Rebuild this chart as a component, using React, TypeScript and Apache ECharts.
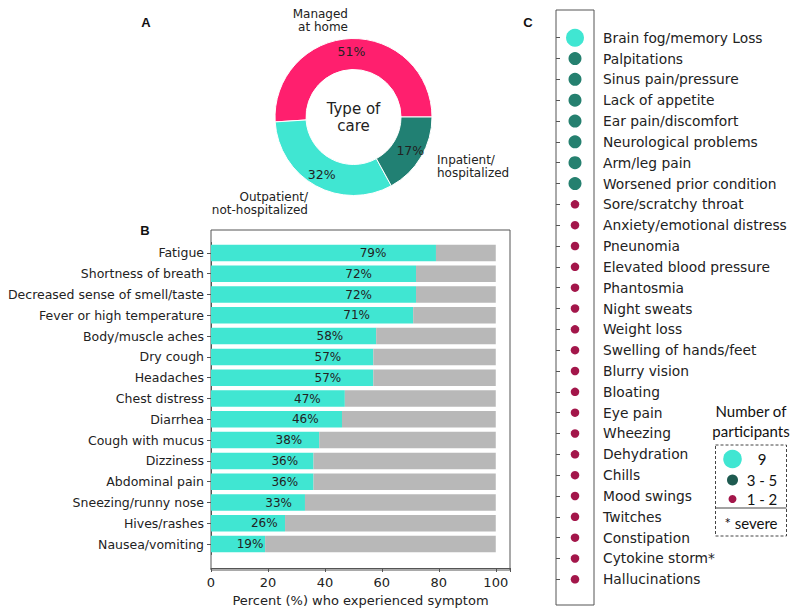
import React, { useEffect, useRef } from "react";
import * as echarts from "echarts";

// Panel A: type of care
const careNames = ["Managed\nat home", "Outpatient/\nnot-hospitalized", "Inpatient/\nhospitalized"];
const careValues = [51, 32, 17];
const careColors = ["#ff1f6e", "#40e6d2", "#218073"];

// Panel B: common symptoms
const symptoms = [
  "Fatigue",
  "Shortness of breath",
  "Decreased sense of smell/taste",
  "Fever or high temperature",
  "Body/muscle aches",
  "Dry cough",
  "Headaches",
  "Chest distress",
  "Diarrhea",
  "Cough with mucus",
  "Dizziness",
  "Abdominal pain",
  "Sneezing/runny nose",
  "Hives/rashes",
  "Nausea/vomiting",
];
const symptomPct = [79, 72, 72, 71, 58, 57, 57, 47, 46, 38, 36, 36, 33, 26, 19];
const xTicks = [0, 20, 40, 60, 80, 100];

// Panel C: rarer symptoms, group of number of participants
const rareSymptoms = [
  "Brain fog/memory Loss",
  "Palpitations",
  "Sinus pain/pressure",
  "Lack of appetite",
  "Ear pain/discomfort",
  "Neurological problems",
  "Arm/leg pain",
  "Worsened prior condition",
  "Sore/scratchy throat",
  "Anxiety/emotional distress",
  "Pneunomia",
  "Elevated blood pressure",
  "Phantosmia",
  "Night sweats",
  "Weight loss",
  "Swelling of hands/feet",
  "Blurry vision",
  "Bloating",
  "Eye pain",
  "Wheezing",
  "Dehydration",
  "Chills",
  "Mood swings",
  "Twitches",
  "Constipation",
  "Cytokine storm*",
  "Hallucinations",
];
// 0 = 9 participants, 1 = 3-5 participants, 2 = 1-2 participants
const rareGroup = [0, 1, 1, 1, 1, 1, 1, 1, 2, 2, 2, 2, 2, 2, 2, 2, 2, 2, 2, 2, 2, 2, 2, 2, 2, 2, 2];
const groupLabels = ["9", "3 - 5", "1 - 2"];
const groupColors = ["#40e6d2", "#25806f", "#a3164a"];
const legendColors = ["#40e6d2", "#1e5a50", "#a3164a"];
const groupSizes = [18, 13, 8.5];

const FONT = "DejaVu Sans";

export default function App() {
  const ref = useRef<HTMLDivElement>(null);
  useEffect(() => {
    if (!ref.current) return;
    const chart = echarts.init(ref.current, undefined, { renderer: "svg" });

    const pieData = careNames.map((n, i) => ({
      name: n,
      value: careValues[i],
      itemStyle: { color: careColors[i] },
    }));

    const nameLabelPos = [
      { x: 348, y: 20, align: "right" },
      { x: 308, y: 203, align: "right" },
      { x: 437, y: 166, align: "left" },
    ];

    const legendY = [459, 480, 499];
    const legendR = [9.3, 5.5, 4];

    const option: any = {
      animation: false,
      backgroundColor: "#ffffff",
      textStyle: { fontFamily: FONT },
      grid: [
        { left: 211, top: 242.5, width: 299, height: 314, containLabel: false },
        { left: 556, top: 27.3, width: 38, height: 562.4, containLabel: false },
      ],
      xAxis: [
        {
          gridIndex: 0,
          type: "value",
          min: 0,
          max: 105,
          interval: 20,
          offset: 13.5,
          splitLine: { show: false },
          axisLine: { show: true, lineStyle: { color: "#555", width: 1 } },
          axisTick: { show: true, length: 4, lineStyle: { color: "#555" } },
          axisLabel: {
            color: "#222",
            fontSize: 13,
            fontFamily: FONT,
            margin: 8,
            formatter: (v: number) => (xTicks.includes(v) ? String(v) : ""),
          },
          name: "Percent (%) who experienced symptom",
          nameLocation: "middle",
          nameGap: 26,
          nameTextStyle: { color: "#222", fontSize: 13, fontFamily: FONT },
        },
        {
          gridIndex: 1,
          type: "value",
          min: 0,
          max: 1,
          show: false,
        },
      ],
      yAxis: [
        {
          gridIndex: 0,
          type: "category",
          inverse: true,
          data: symptoms,
          axisLine: { show: true, lineStyle: { color: "#555", width: 1 } },
          axisTick: { show: true, alignWithLabel: true, length: 4, lineStyle: { color: "#555" } },
          axisLabel: { color: "#222", fontSize: 12.5, fontFamily: FONT, margin: 7 },
        },
        {
          gridIndex: 1,
          type: "category",
          inverse: true,
          position: "right",
          data: rareSymptoms,
          axisLine: { show: false },
          axisTick: { show: true, alignWithLabel: true, length: 4, lineStyle: { color: "#555" } },
          axisLabel: { color: "#222", fontSize: 13.8, fontFamily: FONT, margin: 9 },
        },
      ],
      series: [
        {
          type: "pie",
          center: [353.5, 117],
          radius: [47.5, 78.5],
          clockwise: false,
          startAngle: 0,
          silent: true,
          itemStyle: { borderColor: "#ffffff", borderWidth: 1 },
          label: {
            show: true,
            position: "inside",
            formatter: "{c}%",
            color: "#222",
            fontSize: 12.5,
            fontFamily: FONT,
          },
          labelLine: { show: false },
          data: pieData,
        },
        {
          type: "bar",
          xAxisIndex: 0,
          yAxisIndex: 0,
          stack: "s",
          barWidth: 16.5,
          itemStyle: { color: "#40e6d2" },
          label: {
            show: true,
            position: ["72%", "50%"],
            align: "center",
            verticalAlign: "middle",
            formatter: "{c}%",
            color: "#222",
            fontSize: 12,
            fontFamily: FONT,
          },
          data: symptomPct,
        },
        {
          type: "bar",
          xAxisIndex: 0,
          yAxisIndex: 0,
          stack: "s",
          barWidth: 16.5,
          itemStyle: { color: "#b8b8b8" },
          data: symptomPct.map((v) => 100 - v),
        },
        {
          type: "scatter",
          xAxisIndex: 1,
          yAxisIndex: 1,
          symbol: "circle",
          silent: true,
          data: rareSymptoms.map((_, i) => ({
            value: [0.5, i],
            symbolSize: groupSizes[rareGroup[i]],
            itemStyle: { color: groupColors[rareGroup[i]], opacity: 1 },
          })),
        },
      ],
      graphic: [
        // frames
        {
          type: "rect",
          shape: { x: 211, y: 230, width: 299, height: 340 },
          style: { fill: "none", stroke: "#555", lineWidth: 1 },
          silent: true,
        },
        {
          type: "rect",
          shape: { x: 556, y: 10, width: 38, height: 595 },
          style: { fill: "none", stroke: "#555", lineWidth: 1 },
          silent: true,
        },
        // panel letters
        { type: "text", x: 146, y: 22, style: { text: "A", font: "bold 13px 'Liberation Sans'", fill: "#111", align: "center", verticalAlign: "middle" } },
        { type: "text", x: 145, y: 230, style: { text: "B", font: "bold 13px 'Liberation Sans'", fill: "#111", align: "center", verticalAlign: "middle" } },
        { type: "text", x: 528, y: 22, style: { text: "C", font: "bold 13px 'Liberation Sans'", fill: "#111", align: "center", verticalAlign: "middle" } },
        // donut center text
        {
          type: "text",
          x: 353.5,
          y: 117,
          style: { text: "Type of\ncare", font: `15px '${FONT}'`, lineHeight: 17, fill: "#222", align: "center", verticalAlign: "middle" },
        },
        // donut outside names
        ...careNames.map((n, i) => ({
          type: "text",
          x: nameLabelPos[i].x,
          y: nameLabelPos[i].y,
          style: {
            text: n,
            font: `12px '${FONT}'`,
            lineHeight: 13,
            fill: "#222",
            align: nameLabelPos[i].align,
            verticalAlign: "middle",
          },
        })),
        // legend for panel C
        {
          type: "text",
          x: 751,
          y: 421,
          style: { text: "Number of\nparticipants", font: "15px Lato", lineHeight: 20, fill: "#111", align: "center", verticalAlign: "middle" },
        },
        {
          type: "rect",
          shape: { x: 715.5, y: 445, width: 71, height: 91 },
          style: { fill: "none", stroke: "#444", lineWidth: 1, lineDash: [3, 2] },
        },
        {
          type: "line",
          shape: { x1: 715.5, y1: 508, x2: 786.5, y2: 508 },
          style: { stroke: "#444", lineWidth: 1 },
        },
        ...groupLabels.flatMap((g, i) => [
          {
            type: "circle",
            shape: { cx: 732.5, cy: legendY[i], r: legendR[i] },
            style: { fill: legendColors[i] },
          },
          {
            type: "text",
            x: 762,
            y: legendY[i],
            style: { text: g, font: "15px Lato", fill: "#111", align: "center", verticalAlign: "middle" },
          },
        ]),
        {
          type: "text",
          x: 751,
          y: 523,
          style: { text: "* severe", font: "15px Lato", fill: "#111", align: "center", verticalAlign: "middle" },
        },
      ],
    };

    chart.setOption(option);
    return () => chart.dispose();
  }, []);

  return (
    <div
      ref={ref}
      style={{ position: "fixed", left: 0, top: 0, width: 798, height: 612, background: "#fff" }}
    />
  );
}
